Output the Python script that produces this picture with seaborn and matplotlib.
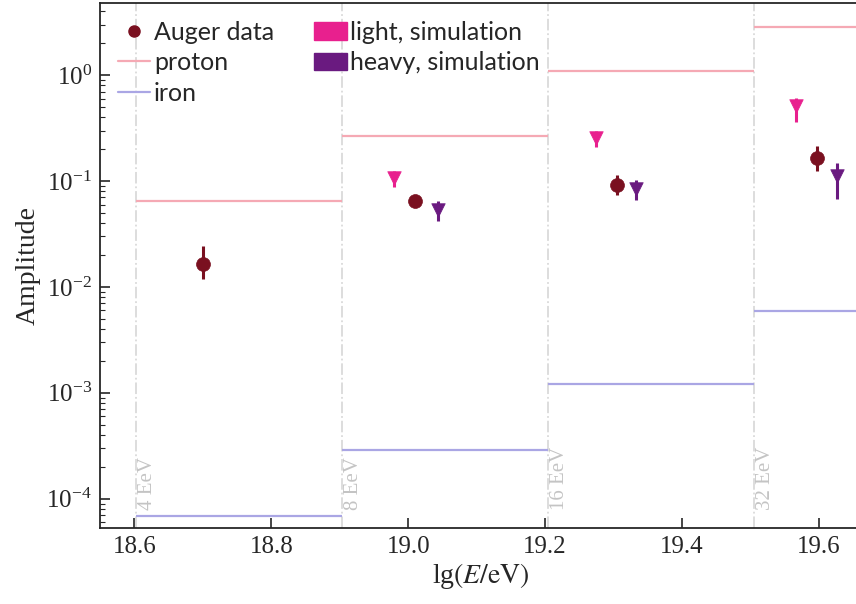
import numpy as np
import pandas as pd
import seaborn as sn
import matplotlib.pyplot as plt
from matplotlib.patches import Patch
from matplotlib.lines import Line2D

# energy bin edges, lg(E/eV)
bin_edges = [18.602, 18.903, 19.204, 19.505, 19.70]
bin_labels = ['4 EeV', '8 EeV', '16 EeV', '32 EeV']

# model expectations per bin
proton_amp = [0.065, 0.266, 1.10, 2.85]
iron_amp = [6.9e-5, 2.9e-4, 1.22e-3, 5.9e-3]

# Auger measurements
auger_x = [18.70, 19.01, 19.305, 19.597]
auger_y = [0.0165, 0.0650, 0.092, 0.166]
auger_lo = [0.0120, 0.0570, 0.074, 0.125]
auger_hi = [0.0245, 0.0740, 0.114, 0.214]

# simulations
light_x = [18.98, 19.275, 19.567]
light_y = [0.107, 0.255, 0.51]
light_lo = [0.088, 0.209, 0.36]
light_hi = [0.124, 0.296, 0.607]

heavy_x = [19.043, 19.333, 19.627]
heavy_y = [0.053, 0.084, 0.111]
heavy_lo = [0.042, 0.066, 0.068]
heavy_hi = [0.065, 0.102, 0.148]

xtick_vals = [18.6, 18.8, 19.0, 19.2, 19.4, 19.6]
xtick_text = ['18.6', '18.8', '19.0', '19.2', '19.4', '19.6']

c_auger = '#7a1020'
c_light = '#e8208e'
c_heavy = '#6a1a80'
c_proton = '#f5a9b4'
c_iron = '#aaa6e4'


def main():
    sn.set_style('ticks')
    plt.rcParams['font.family'] = ['Liberation Serif', 'DejaVu Serif']
    plt.rcParams['mathtext.fontset'] = 'stix'

    fig = plt.figure(figsize=(8.56, 6.04), dpi=100)
    ax = fig.add_axes([0.117, 0.126, 0.89, 0.869])
    ax.set_yscale('log')

    # bin boundaries
    for edge, lab in zip(bin_edges[:-1], bin_labels):
        ax.axvline(edge, color='#dadada', ls='-.', lw=1.3, zorder=0)
        ax.text(edge + 0.003, 7.9e-5, lab, rotation=90, color='#c4c4c4',
                fontsize=15, ha='left', va='bottom', family='Liberation Serif')

    # model lines
    ax.hlines(proton_amp, bin_edges[:-1], bin_edges[1:], color=c_proton, lw=1.6)
    ax.hlines(iron_amp, bin_edges[:-1], bin_edges[1:], color=c_iron, lw=1.6)

    def draw(xs, ys, lo, hi, color, marker, size):
        df = pd.DataFrame({'x': xs, 'y': ys})
        yerr = [np.array(ys) - np.array(lo), np.array(hi) - np.array(ys)]
        ax.errorbar(xs, ys, yerr=yerr, fmt='none', ecolor=color, elinewidth=2.2, zorder=3)
        sn.scatterplot(data=df, x='x', y='y', color=color, marker=marker, s=size,
                       edgecolor=color, linewidth=0.5, ax=ax, zorder=4)

    draw(auger_x, auger_y, auger_lo, auger_hi, c_auger, 'o', 100)
    draw(light_x, light_y, light_lo, light_hi, c_light, 'v', 95)
    draw(heavy_x, heavy_y, heavy_lo, heavy_hi, c_heavy, 'v', 95)

    ax.set_xlim(18.55, 19.663)
    ax.set_ylim(5.3e-5, 4.8)
    ax.set_xticks(xtick_vals)
    ax.set_xticklabels(xtick_text, family='Liberation Serif')
    ax.tick_params(which='both', direction='in', labelsize=18, top=False, right=False)
    ax.tick_params(which='major', length=7, width=1.2, pad=6)
    ax.tick_params(which='minor', length=3.5, width=0.8)
    ax.minorticks_on()
    ax.xaxis.set_minor_locator(plt.NullLocator())
    for sp in ax.spines.values():
        sp.set_linewidth(1.3)
    ax.set_xlabel(r'lg$(E/\mathrm{eV})$', fontsize=20, labelpad=2)
    ax.set_ylabel('Amplitude', fontsize=20, labelpad=4)

    handles = [
        Line2D([], [], color=c_auger, marker='o', ls='none', markersize=8),
        Line2D([], [], color=c_proton, lw=1.6),
        Line2D([], [], color=c_iron, lw=1.6),
        Patch(color=c_light),
        Patch(color=c_heavy),
    ]
    labels = ['Auger data', 'proton', 'iron', 'light, simulation', 'heavy, simulation']
    ax.legend(handles, labels, loc='upper left', ncol=2, frameon=False,
              prop={'family': 'Lato', 'size': 18}, handlelength=1.3,
              handletextpad=0.15, labelspacing=0.3, columnspacing=1.6,
              borderaxespad=0.3, bbox_to_anchor=(0.0, 1.0))

    fig.savefig('out.png', dpi=100)


if __name__ == "__main__":
    main()
